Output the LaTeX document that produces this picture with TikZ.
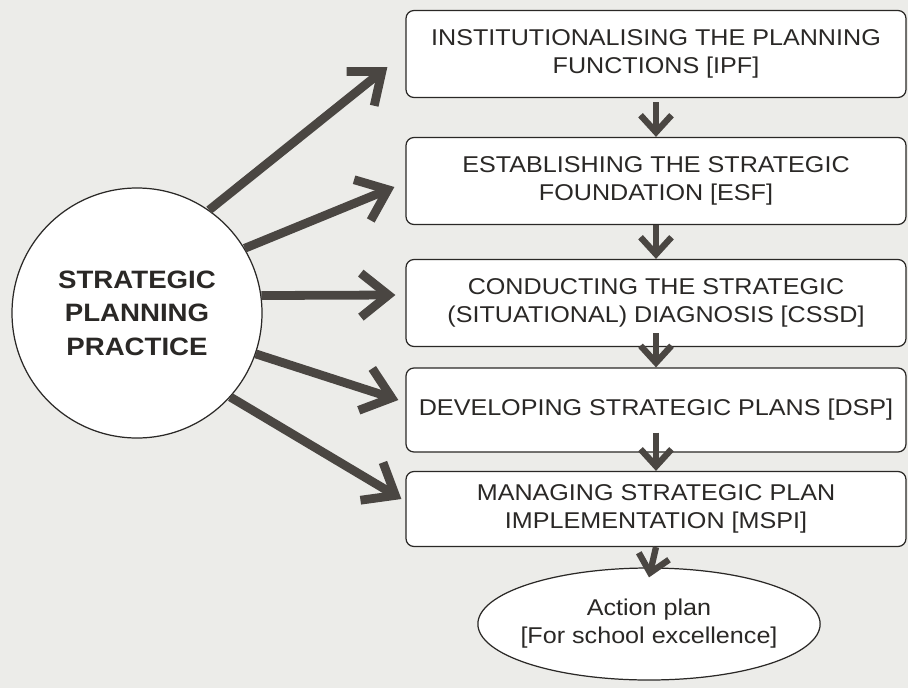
\documentclass[tikz,border=0pt]{standalone}
\usepackage{fontspec}
\setmainfont{Liberation Sans}[FakeStretch=1.1]
\usepackage{tikz}
\usetikzlibrary{positioning,calc,arrows.meta,shapes.geometric}

\definecolor{paper}{RGB}{236,236,233}
\definecolor{ink}{RGB}{42,40,38}
\definecolor{shaft}{RGB}{74,70,66}

\begin{document}
\begin{tikzpicture}[x=0.2mm, y=-0.2mm,
    stage/.style={draw=ink, fill=white, rounded corners=1.6mm, line width=0.7pt,
      minimum width=100mm, minimum height=17.4mm, align=center, text=ink,
      font=\fontsize{13}{16}\selectfont},
    bigarrow/.style={draw=shaft, line width=5pt, -{Straight Barb[length=5.5mm, width=8.8mm]}},
    steparrow/.style={draw=shaft, line width=3.6pt, -{Straight Barb[length=3.4mm, width=6.2mm]}}]
  \fill[paper] (0,0) rectangle (908,688);

  % practice and its five stages
  \node[circle, draw=ink, fill=white, line width=0.7pt, minimum size=50mm, inner sep=0pt,
    align=center, text=ink, font=\bfseries\fontsize{14.3}{19}\selectfont] (spp) at (137,313)
    {STRATEGIC\\PLANNING\\PRACTICE};
  \node[stage] (ipf)  at (656,54)  {INSTITUTIONALISING THE PLANNING\\FUNCTIONS [IPF]};
  \node[stage] (esf)  at (656,181) {ESTABLISHING THE STRATEGIC\\FOUNDATION [ESF]};
  \node[stage] (cssd) at (656,303) {CONDUCTING THE STRATEGIC\\(SITUATIONAL) DIAGNOSIS [CSSD]};
  \node[stage, minimum height=16.8mm] (dsp)  at (656,410) {DEVELOPING STRATEGIC PLANS [DSP]};
  \node[stage, minimum height=15mm]   (mspi) at (656,509) {MANAGING STRATEGIC PLAN\\IMPLEMENTATION [MSPI]};
  \node[ellipse, draw=ink, fill=white, line width=0.7pt, minimum width=66mm, minimum height=22.4mm,
    inner xsep=-1.5mm, inner ysep=0pt, align=center, text=ink, font=\fontsize{13}{16}\selectfont]
    (plan) at (649,624) {Action plan\\{[}For school excellence{]}};

  % spokes out of the circle
  \draw[bigarrow] (spp.55)  -- ([xshift=-3.6mm, yshift=-2.6mm]ipf.west);
  \draw[bigarrow] (spp.31)  -- ([xshift=-2.2mm, yshift=-1.2mm]esf.west);
  \draw[bigarrow] (spp.8)   -- ([xshift=-2mm, yshift=1.6mm]cssd.west);
  \draw[bigarrow] (spp.-19) -- ([xshift=-1.4mm, yshift=2mm]dsp.west);
  \draw[bigarrow] (spp.-42) -- ([xshift=-0.8mm, yshift=2mm]mspi.west);

  % the chain downwards
  \draw[steparrow] ([yshift=-0.8mm]ipf.south) -- (esf.north);
  \draw[steparrow] (esf.south) -- (cssd.north);
  \draw[steparrow] ([yshift=2.8mm]cssd.south) -- (dsp.north);
  \draw[steparrow] ([yshift=4mm]dsp.south) -- (mspi.north);
  \draw[steparrow] (mspi.south) -- ([yshift=-2mm]plan.north);
\end{tikzpicture}
\end{document}
